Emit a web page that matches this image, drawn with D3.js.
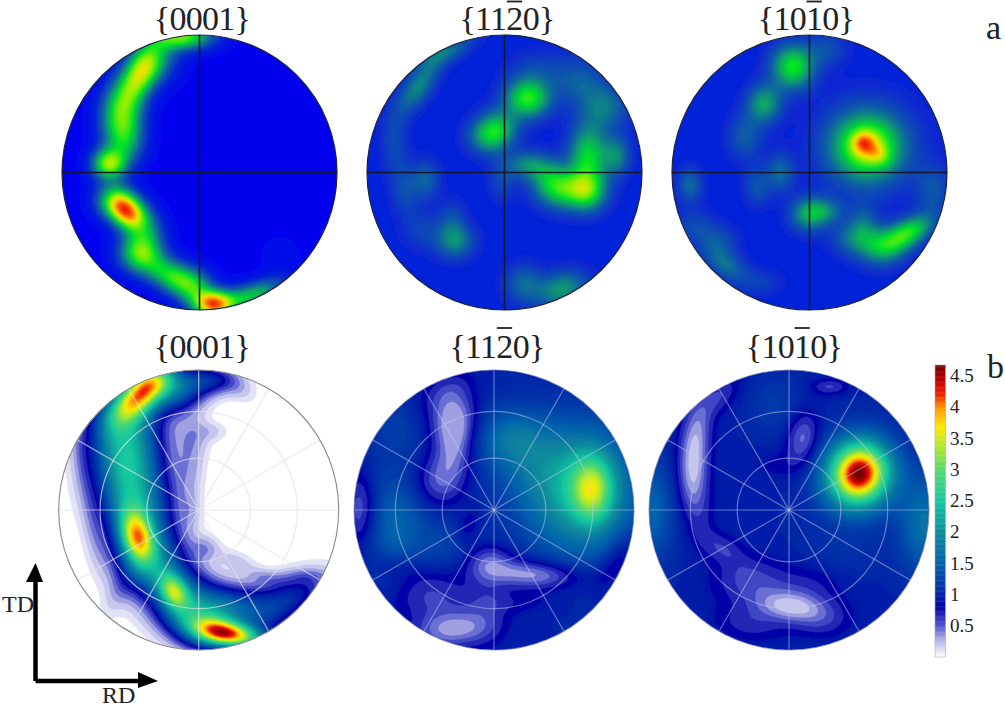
<!DOCTYPE html>
<html><head><meta charset="utf-8">
<script src="https://cdn.jsdelivr.net/npm/d3@7"></script>
<style>html,body{margin:0;background:#fff}svg{display:block}text{font-family:"Liberation Serif",serif;fill:#222}</style>
</head><body><svg id="c" width="1005" height="708"></svg>
<script>
// hotspots: [u, v, amplitude, sigmaU, sigmaV, rotationDeg], in pole-figure units (-1..1)
const measuredBase = [0.0, 0.10, 0.10];
const measured0001 = [
 [-.12,.99,.62,.16,.07,0],[-.31,.82,.26,.12,.12,0],[-.43,.72,.60,.09,.16,-25],[-.57,.43,.54,.11,.17,-5],[-.53,.22,.28,.10,.12,0],
 [-.66,.06,.62,.09,.08,0],[-.62,-.2,.46,.10,.09,0],[-.52,-.29,.72,.10,.085,-35],[-.40,-.42,.30,.10,.11,0],[-.43,-.59,.52,.115,.10,0],
 [-.19,-.76,.54,.15,.085,-25],[-.03,-.84,.28,.10,.10,0],[.10,-.96,.72,.10,.07,0],[.27,-.92,.30,.15,.07,15],[.45,-.87,.30,.14,.06,25],[.59,-.61,.04,.12,.12,0]
];
const measured1120 = [
 [.17,.54,.48,.115,.10,0],[-.04,.32,.32,.10,.10,-30],[-.14,.26,.24,.10,.09,0],[.61,.12,.42,.10,.16,0],[.40,-.12,.40,.12,.10,0],[.60,-.14,.40,.10,.10,0],
 [.15,.06,.22,.10,.07,0],[.3,.0,.20,.10,.09,0],[.82,.12,.24,.07,.10,0],[.73,.48,.22,.13,.12,0],[.54,.67,.16,.13,.12,0],
 [.24,.75,.10,.15,.10,0],[-.63,.62,.26,.07,.16,-35],[-.43,.88,.22,.15,.06,25],[-.8,.21,.12,.07,.17,0],[-.57,-.05,.18,.07,.10,0],[-.72,-.13,.13,.07,.13,0],
 [-.36,-.5,.26,.10,.09,0],[-.38,-.34,.12,.07,.10,0],[-.6,-.42,.10,.10,.10,0],[.14,-.81,.20,.10,.10,0],[.42,-.85,.30,.13,.09,20],[-.02,-.05,.12,.07,.11,0]
];
const measured1010 = [
 [-.12,.77,.46,.11,.115,0],[-.33,.5,.32,.09,.10,0],[-.47,.26,.17,.09,.115,0],[.13,.9,.13,.10,.09,0],
 [.42,.19,.48,.21,.20,0],[.42,.19,.22,.12,.11,0],[.39,.22,.18,.05,.05,0],[.5,.13,.12,.07,.045,-35],[-.21,.0,.20,.07,.10,0],[-.38,-.1,.15,.07,.10,0],[-.87,-.09,.20,.065,.09,0],
 [-.02,-.31,.26,.09,.09,0],[.1,-.28,.24,.10,.07,0],[.73,-.43,.42,.13,.07,28],[.56,-.55,.28,.12,.09,20],[.37,-.48,.28,.13,.09,0],[.39,-.34,.12,.07,.09,0],
 [.9,-.13,.15,.09,.13,0],[-.84,-.39,.12,.10,.09,0],[-.67,-.51,.15,.10,.09,0],[-.6,-.68,.20,.115,.07,-30],[-.36,-.8,.09,.115,.07,0]
];
const simulatedBase = [0, 1.0, 1.0];
const simulatedFloor = [0, 0.33, 0.30];
const simulated0001 = [
 [-.41,.84,3.1,.19,.09,45],[-.30,.93,.8,.14,.09,0],[-.52,.62,1.6,.18,.18,-15],[-.52,.36,1.5,.17,.16,0],[-.47,.12,1.5,.18,.16,0],
 [-.44,-.19,2.2,.08,.14,15],[-.42,-.14,1.3,.17,.17,0],[-.33,-.40,1.5,.17,.16,0],[-.18,-.58,1.8,.07,.10,25],[-.1,-.66,1.5,.16,.15,0],[.08,-.80,1.35,.15,.12,0],
 [.22,-.885,2.8,.19,.06,-12],[.12,-.92,.7,.15,.06,0],[.22,-.66,.65,.15,.10,0],[.45,-.74,1.05,.2,.13,20],[.74,-.58,.65,.17,.10,25],
 [-.14,.84,1.2,.14,.10,15],[.1,.93,.85,.13,.07,0],[.3,.86,.2,.09,.06,-30],[-.04,.52,.32,.08,.12,0],[.1,.56,.20,.08,.05,0],[-.06,.28,.25,.07,.13,0],[-.05,0,.2,.05,.1,0],
 [.05,-.27,.3,.07,.06,0],[.27,-.36,.22,.1,.05,-20],[.47,-.48,.2,.1,.04,-15],[.74,-.47,.14,.14,.035,0],[-.83,.38,.16,.05,.2,5],[-.75,-.15,.16,.05,.2,8],[-.58,-.6,.18,.06,.15,-28]
];
const simulated1120 = [
 [.70,.15,1.45,.10,.16,0],[.62,.14,1.3,.27,.31,0],[.12,.51,.6,.17,.15,0],[.3,.3,.28,.22,.22,0],[-.7,-.1,.55,.16,.27,0],[-.7,.6,.2,.15,.15,0],[-.3,-.25,.25,.16,.14,0],
 [-.28,.51,-.62,.10,.22,-5],[-.33,.66,-.3,.13,.12,-25],[-.42,.2,-.38,.12,.13,-30],[-.95,.0,-.5,.08,.18,0],[-.28,-.85,-.62,.19,.09,5],[.27,-.46,-.66,.24,.07,-3],
 [-.04,-.35,-.36,.12,.08,0],[-.47,-.6,-.36,.2,.13,0],[-.7,-.4,-.22,.13,.07,-10],[-.19,-.13,-.28,.06,.10,-25],[.88,-.35,-.34,.07,.16,-35],[-.35,.85,-.2,.13,.08,25],[.15,-.66,-.16,.22,.06,0],[-.05,-.62,-.18,.1,.22,0]
];
const simulated1010 = [
 [.5,.26,2.95,.16,.17,-25],[.5,.26,.8,.10,.11,-25],[.97,-.1,.7,.13,.24,0],[-.98,0,.55,.11,.24,0],[-.1,.75,.2,.12,.14,0],[.35,-.35,.12,.2,.2,0],
 [-.67,.51,-.6,.075,.21,-8],[-.68,.2,-.48,.075,.18,-3],[-.49,.82,-.3,.12,.07,50],[.1,.51,-.5,.08,.13,-8],[.29,.88,-.34,.09,.04,0],
 [.02,-.69,-.58,.17,.075,-5],[.02,-.62,-.22,.32,.16,0],[-.29,-.49,-.28,.17,.11,-5],[.2,-.5,-.1,.15,.08,0],[-.48,-.27,-.3,.12,.07,-30],[.24,-.8,-.2,.13,.08,0],[-.3,-.82,-.2,.16,.08,-10],[-.07,.32,-.14,.13,.07,0],[-.62,-.07,-.16,.07,.16,0]
];
const topTitles = ["{0001}","{1120}","{1010}"];
const barredChar = [-1,3,3];
const legendTicks = [0.5,1,1.5,2,2.5,3,3.5,4,4.5];
const legendStops = [0,.3,.5,.8,1,1.5,2,2.5,3,3.5,3.72,4,4.25,4.5,4.72];
const legendColors = ["#ffffff","#a8a8e4","#5056cc","#0406a6","#0324a8","#0560ac","#0a8c9c","#14c8a0","#54d870","#c8ee20","#ffe800","#ffa000","#f02000","#b40000","#700000"];
const measuredStops = [0,.10,.26,.40,.54,.68,.78,.88,1];
const measuredColors = ["#0004ee","#0620d8","#0a5aa8","#0c9c70","#00e428","#98f000","#ffe000","#ff7400","#e80000"];

const svg = d3.select("#c");
const defs = svg.append("defs");
const colorB = d3.scaleLinear().domain(legendStops).range(legendColors).clamp(true);
const colorA = d3.scaleLinear().domain(measuredStops).range(measuredColors).clamp(true);
const N = 230;
const gridU = d3.scaleLinear().domain([0,N]).range([-1.04,1.04]);
const gridV = d3.scaleLinear().domain([0,N]).range([1.04,-1.04]);

function fieldOf(spots, base, floor){
  const vals = new Float64Array(N*N);
  const pre = spots.map(s=>{const t=s[5]*Math.PI/180;return [s[0],s[1],s[2],s[3],s[4],Math.cos(t),Math.sin(t)];});
  for(let j=0;j<N;j++)for(let i=0;i<N;i++){
    const u=gridU(i+.5),v=gridV(j+.5);let f=base;
    for(const p of pre){const du=u-p[0],dv=v-p[1];const a=(du*p[5]+dv*p[6])/p[3],b=(-du*p[6]+dv*p[5])/p[4];const q=(a*a+b*b)/2;if(q<12)f+=p[2]*Math.exp(-q);}
    vals[i+j*N]=Math.max(f,floor);
  }
  return vals;
}
function disk(id,cx,cy,r,spots,base,floor,thresholds,color,bg,blur){
  const x=d3.scaleLinear().domain([0,N]).range([cx-r*1.04,cx+r*1.04]);
  const y=d3.scaleLinear().domain([0,N]).range([cy-r*1.04,cy+r*1.04]);
  const path=d3.geoPath(d3.geoTransform({point(a,b){this.stream.point(x(a),y(b));}}));
  defs.append("clipPath").attr("id",id).append("circle").attr("cx",cx).attr("cy",cy).attr("r",r);
  const g=svg.append("g").attr("clip-path",`url(#${id})`);
  const inner=g.append("g").attr("filter",`url(#${blur})`);
  inner.append("circle").attr("cx",cx).attr("cy",cy).attr("r",r+4).attr("fill",bg);
  const cs=d3.contours().size([N,N]).thresholds(thresholds)(fieldOf(spots,base,floor));
  inner.selectAll("path").data(cs).join("path").attr("d",path).attr("fill",d=>color(d.value)).attr("stroke",d=>color(d.value)).attr("stroke-width",.4);
  return g;
}
defs.append("filter").attr("id","softA").append("feGaussianBlur").attr("stdDeviation",.9);
defs.append("filter").attr("id","softB").append("feGaussianBlur").attr("stdDeviation",.55);

// row a
const rowA=[[199.5,measured0001,measuredBase[0]],[504.5,measured1120,measuredBase[1]],[809.5,measured1010,measuredBase[2]]];
const thrA=d3.range(.02,1.02,.02);
rowA.forEach((p,i)=>{
  const cx=p[0],cy=172.5,r=137.5;
  disk("a"+i,cx,cy,r,p[1],p[2],0,thrA,colorA,colorA(p[2]),"softA");
  svg.append("circle").attr("cx",cx).attr("cy",cy).attr("r",r).attr("fill","none").attr("stroke","#1c2440").attr("stroke-width",1.2);
  svg.append("line").attr("x1",cx-r).attr("x2",cx+r).attr("y1",cy).attr("y2",cy).attr("stroke","#101828").attr("stroke-width",1.6);
  svg.append("line").attr("x1",cx).attr("x2",cx).attr("y1",cy-r).attr("y2",cy+r).attr("stroke","#101828").attr("stroke-width",1.6);
});

// row b
const rowB=[[198.7,simulated0001,simulatedBase[0]],[494,simulated1120,simulatedBase[1]],[789,simulated1010,simulatedBase[2]]];
const thrB=[.1,.2,.32,.44,.56,.68,.8].concat(d3.range(.9,4.8,.035));
const ringFractions=[.37,.705], spokeAngles=d3.range(0,180,30);
rowB.forEach((p,i)=>{
  const cx=p[0],cy=510,r=140;
  const g=disk("b"+i,cx,cy,r,p[1],p[2],simulatedFloor[i],thrB,colorB,"#ffffff","softB");
  const gc=i==0?"#dfe1ea":"#c4cbec", op=i==0?.7:.5;
  ringFractions.forEach(f=>g.append("circle").attr("cx",cx).attr("cy",cy).attr("r",r*f).attr("fill","none").attr("stroke",gc).attr("stroke-opacity",op).attr("stroke-width",1.2));
  spokeAngles.forEach(a=>{const t=a*Math.PI/180;g.append("line").attr("x1",cx-r*Math.cos(t)).attr("x2",cx+r*Math.cos(t)).attr("y1",cy+r*Math.sin(t)).attr("y2",cy-r*Math.sin(t)).attr("stroke",gc).attr("stroke-opacity",op).attr("stroke-width",1.2);});
  svg.append("circle").attr("cx",cx).attr("cy",cy).attr("r",r).attr("fill","none").attr("stroke",i==0?"#8a8a8a":"#6a70a8").attr("stroke-opacity",i==0?1:.6).attr("stroke-width",1.1);
});

// titles
function title(txt,cx,by,bar,barY){
  const t=svg.append("text").attr("x",cx).attr("y",by).attr("text-anchor","middle").attr("font-size",34).attr("letter-spacing",-.7).text(txt);
  if(bar>=0){const e=t.node().getExtentOfChar(bar);svg.append("line").attr("x1",e.x+.5).attr("x2",e.x+e.width-.5).attr("y1",barY).attr("y2",barY).attr("stroke","#222").attr("stroke-width",1.8);}
}
[202,507,806].forEach((cx,i)=>title(topTitles[i],cx,30,barredChar[i],1.5));
[202,497,794].forEach((cx,i)=>title(topTitles[i],cx,358,barredChar[i],328));
svg.append("text").attr("x",986).attr("y",39).attr("font-size",34).text("a");
svg.append("text").attr("x",987).attr("y",378).attr("font-size",34).text("b");

// legend
const legendY=d3.scaleLinear().domain([0,4.72]).range([657,365]);
const legendVals=d3.range(0,4.72,.02);
svg.append("g").selectAll("rect").data(legendVals).join("rect")
  .attr("x",935).attr("width",10.5).attr("y",d=>legendY(d+.02)).attr("height",d=>legendY(d)-legendY(d+.02)+.4).attr("fill",d=>colorB(d));
svg.append("rect").attr("x",935).attr("y",365).attr("width",10.5).attr("height",292).attr("fill","none").attr("stroke","#aaa").attr("stroke-width",.6);
const tickY=d3.scaleLinear().domain([.5,4.5]).range([625,375]);
svg.append("g").selectAll("text").data(legendTicks).join("text").attr("x",950).attr("y",d=>tickY(d)+7).attr("font-size",19).text(d=>d);

// RD / TD arrows
const ax=svg.append("g");
ax.append("path").attr("d","M35.5 681V580M35.5 681H142").attr("fill","none").attr("stroke","#000").attr("stroke-width",4.5);
ax.append("path").attr("d",d3.line()([[26,582],[35.5,563],[43,582]])+"Z");
ax.append("path").attr("d",d3.line()([[138,672],[158,681],[138,688]])+"Z");
svg.append("text").attr("x",2).attr("y",612).attr("font-size",24).text("TD");
svg.append("text").attr("x",102).attr("y",703).attr("font-size",24).text("RD");
</script></body></html>
